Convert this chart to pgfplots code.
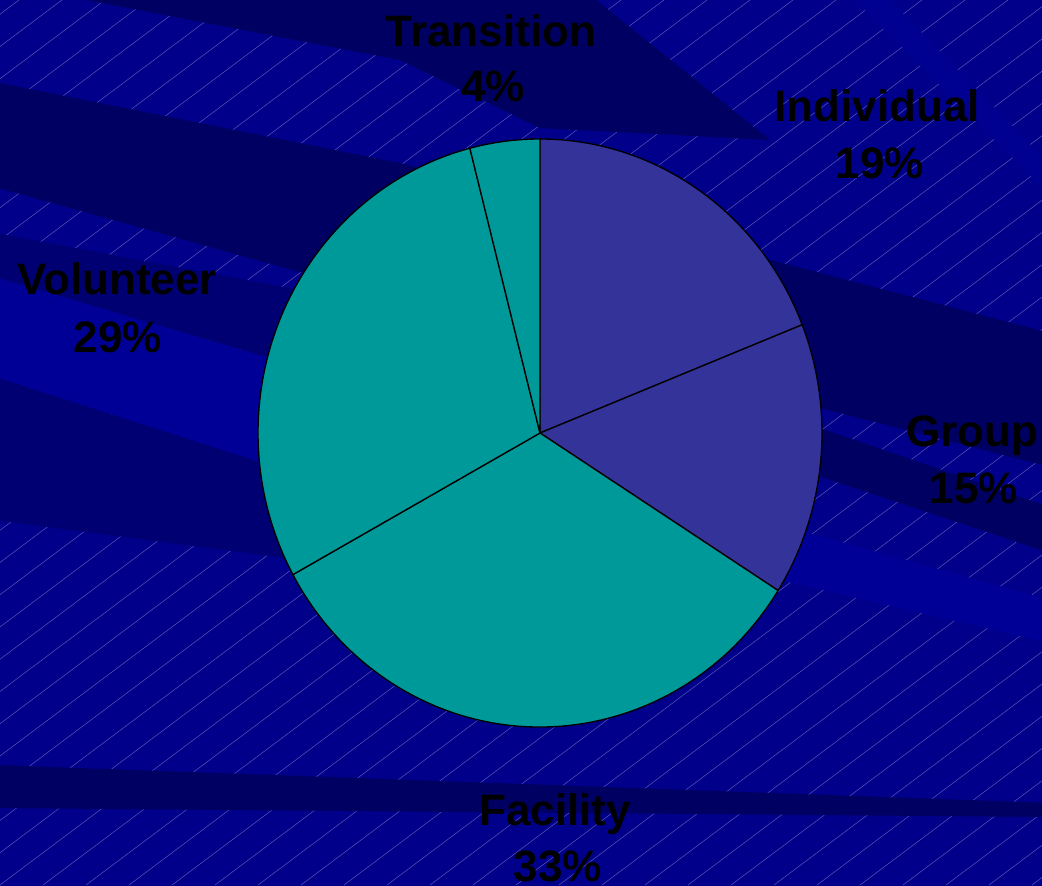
\documentclass[border=0pt]{standalone}
\usepackage{pgfplots}
\pgfplotsset{compat=1.18}
\usepackage{pgfplotstable}
\usepackage{fontspec}
\setmainfont{Liberation Sans}
\definecolor{bgbase}{RGB}{0,0,138}
\definecolor{bgdark}{RGB}{0,0,98}
\definecolor{bgmid}{RGB}{0,0,114}
\definecolor{bglight}{RGB}{0,0,150}
\definecolor{bglight2}{RGB}{0,0,145}
\definecolor{hatch}{RGB}{105,105,190}
\definecolor{ind}{HTML}{333399}
\definecolor{grp}{HTML}{333399}
\definecolor{fac}{HTML}{009999}
\definecolor{vol}{HTML}{009999}
\definecolor{tra}{HTML}{009999}

\pgfplotstableread{
label value col
Individual 19 ind
Group 15 grp
Facility 33 fac
Volunteer 29 vol
Transition 4 tra
}\piedata

\begin{document}
\begin{tikzpicture}
\useasboundingbox (0,0) rectangle (781.5pt,663.75pt);
\clip (0,0) rectangle (781.5pt,663.75pt);
\begin{axis}[at={(0,0)}, anchor=south west, width=781.5pt, height=663.75pt,
  scale only axis, xmin=0, xmax=1042, ymin=0, ymax=885, y dir=reverse,
  hide axis, clip=false]
  \fill[bgbase] (axis cs:-10,-10) rectangle (axis cs:1052,895);
  \pgfplotsinvokeforeach{-28,...,25}{
    \draw[hatch, line width=0.3pt] (axis cs:{#1*43},885) -- (axis cs:{#1*43+1180},0);
  }
  % bands
  \fill[bgdark] (axis cs:60,-5) -- (axis cs:590,-5) -- (axis cs:770,140) -- (axis cs:540,128) -- (axis cs:400,60) -- cycle;
  \fill[bgdark] (axis cs:-5,82) -- (axis cs:400,163) -- (axis cs:1050,333) -- (axis cs:1050,467) -- (axis cs:400,300) -- (axis cs:-5,187) -- cycle;
  \fill[bgmid] (axis cs:-5,233) -- (axis cs:300,290) -- (axis cs:300,367) -- (axis cs:-5,277) -- cycle;
  \fill[bglight] (axis cs:-5,277) -- (axis cs:300,367) -- (axis cs:300,475) -- (axis cs:-5,377) -- cycle;
  \fill[bgmid] (axis cs:-5,377) -- (axis cs:300,475) -- (axis cs:300,560) -- (axis cs:-5,520) -- cycle;
  \fill[bgdark] (axis cs:650,370) -- (axis cs:1050,507) -- (axis cs:1050,553) -- (axis cs:650,420) -- cycle;
  \fill[bglight] (axis cs:780,525) -- (axis cs:1050,600) -- (axis cs:1050,643) -- (axis cs:780,580) -- cycle;
  \fill[bgdark] (axis cs:-5,765) -- (axis cs:1050,803) -- (axis cs:1050,817) -- (axis cs:-5,808) -- cycle;
  \fill[bglight2] (axis cs:850,-5) -- (axis cs:885,-5) -- (axis cs:1050,165) -- (axis cs:1050,195) -- cycle;
  \coordinate (C) at (axis cs:540,433);
  \coordinate (L1) at (axis cs:491,47);
  \coordinate (L1b) at (axis cs:493,102);
  \coordinate (L2) at (axis cs:877,122);
  \coordinate (L2b) at (axis cs:880,179);
  \coordinate (L3) at (axis cs:972,447);
  \coordinate (L3b) at (axis cs:974,504);
  \coordinate (L4) at (axis cs:555,826);
  \coordinate (L4b) at (axis cs:558,882);
  \coordinate (L5) at (axis cs:117,295);
  \coordinate (L5b) at (axis cs:118,353);
\end{axis}
% pie slices from the table
\def\cum{90}
\pgfplotstablegetrowsof{\piedata}
\pgfmathtruncatemacro\nrows{\pgfplotsretval-1}
\pgfplotsforeachungrouped \i in {0,...,\nrows}{%
  \pgfplotstablegetelem{\i}{value}\of\piedata \let\v=\pgfplotsretval
  \pgfplotstablegetelem{\i}{col}\of\piedata \let\c=\pgfplotsretval
  \pgfmathsetmacro\endang{\cum-3.6*\v}%
  \fill[\c, draw=black, line width=1pt, line join=round] (C) -- ++(\cum:211.5pt and 220.5pt)
     arc[start angle=\cum, end angle=\endang, x radius=211.5pt, y radius=220.5pt] -- cycle;
  \global\let\cum=\endang
}
\tikzset{lab/.style={anchor=base, font=\fontsize{33}{40}\selectfont\bfseries, text=black, inner sep=0pt}}
\node[lab] at (L1) {Transition};
\node[lab] at (L1b) {4\%};
\node[lab] at (L2) {Individual};
\node[lab] at (L2b) {19\%};
\node[lab] at (L3) {Group};
\node[lab] at (L3b) {15\%};
\node[lab] at (L4) {Facility};
\node[lab] at (L4b) {33\%};
\node[lab] at (L5) {Volunteer};
\node[lab] at (L5b) {29\%};
\end{tikzpicture}
\end{document}
